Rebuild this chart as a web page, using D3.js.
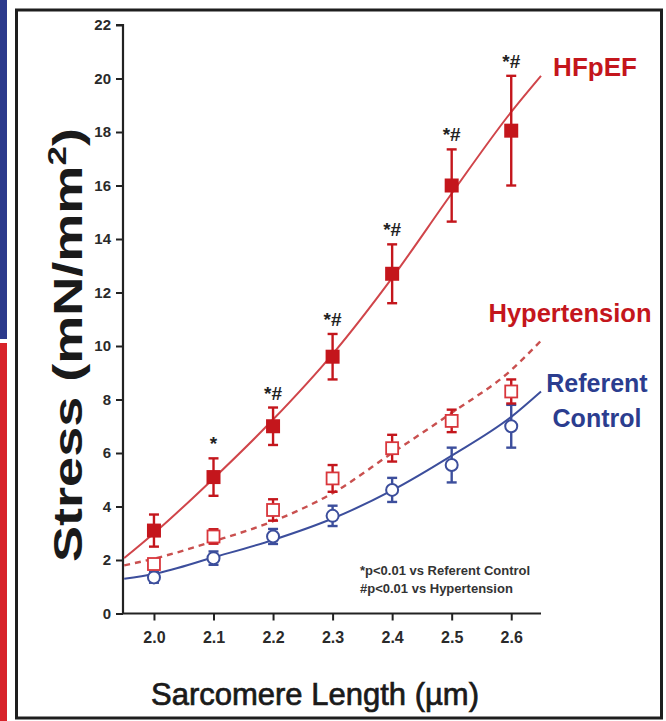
<!DOCTYPE html>
<html>
<head>
<meta charset="utf-8">
<script src="https://cdn.jsdelivr.net/npm/d3@7"></script>
<style>
  body { margin: 0; background: #fff; }
  svg { display: block; font-family: "Liberation Sans", Arial, Helvetica, sans-serif; }
</style>
</head>
<body>
<div id="chart"></div>
<script>
// sarcomere lengths where the means were measured
const sarcomereLengths = [2.0, 2.1, 2.2, 2.3, 2.4, 2.5, 2.6];

// mean stress and error per group (mN/mm2)
const hfpefMean = [3.1, 5.1, 7.0, 9.6, 12.7, 16.0, 18.05];
const hfpefErr = [0.6, 0.7, 0.7, 0.85, 1.1, 1.35, 2.05];
const hypertensionMean = [1.85, 2.88, 3.87, 5.05, 6.18, 7.2, 8.3];
const hypertensionErr = [0.12, 0.27, 0.4, 0.5, 0.5, 0.42, 0.45];
const controlMean = [1.35, 2.07, 2.88, 3.65, 4.62, 5.55, 7.0];
const controlErr = [0.2, 0.25, 0.28, 0.38, 0.45, 0.65, 0.8];

// significance marks above the HFpEF points
const significance = ["", "*", "*#", "*#", "*#", "*#", "*#"];

// fitted curves
const fitLengths = [1.95, 2.0, 2.1, 2.2, 2.3, 2.4, 2.5, 2.6, 2.65];
const hfpefFit = [2.07, 3.0, 5.05, 7.25, 9.7, 12.55, 15.7, 18.75, 20.1];
const hypertensionFit = [1.8, 2.05, 2.7, 3.45, 4.5, 6.0, 7.5, 9.1, 10.2];
const controlFit = [1.3, 1.48, 2.1, 2.75, 3.55, 4.6, 5.9, 7.35, 8.3];

// axis ticks
const xTicks = [2.0, 2.1, 2.2, 2.3, 2.4, 2.5, 2.6];
const yTicks = [0, 2, 4, 6, 8, 10, 12, 14, 16, 18, 20, 22];

const red = "#c4161c";
const dashRed = "#c9504f";
const blue = "#3c4e9c";
const textBlue = "#2b3d8f";

const width = 666;
const height = 721;

const svg = d3.select("#chart").append("svg")
  .attr("width", width)
  .attr("height", height);

// side bars and frame of the slide
svg.append("rect").attr("x", 0).attr("y", 0).attr("width", 7).attr("height", 339).attr("fill", "#2c3a8c");
svg.append("rect").attr("x", 0).attr("y", 343).attr("width", 7).attr("height", 378).attr("fill", "#d8232a");
svg.append("rect")
  .attr("x", 16.5).attr("y", 10)
  .attr("width", 645).attr("height", 708)
  .attr("fill", "none")
  .attr("stroke", "#1e1e1e")
  .attr("stroke-width", 3);

// scales
const xScale = d3.scaleLinear().domain([1.948, 2.65]).range([123, 541]);
const yScale = d3.scaleLinear().domain([0, 22]).range([613.5, 25]);

// y axis
const yAxis = d3.axisLeft(yScale)
  .tickValues(yTicks)
  .tickSize(7)
  .tickPadding(5)
  .tickFormat(d3.format("d"));
const gy = svg.append("g").attr("transform", "translate(" + xScale.range()[0] + ",0)").call(yAxis);
gy.select(".domain").attr("stroke", "#222").attr("stroke-width", 2.2).attr("d", "M-7," + yScale(22) + "H0V" + yScale(0));
gy.selectAll(".tick line").attr("stroke", "#222").attr("stroke-width", 2);
gy.selectAll(".tick text")
  .attr("fill", "#2a2a2a")
  .style("font-size", "15px")
  .style("font-weight", "bold");

// x axis
const xAxis = d3.axisBottom(xScale)
  .tickValues(xTicks)
  .tickSize(7)
  .tickPadding(11)
  .tickFormat(d3.format(".1f"));
const gx = svg.append("g").attr("transform", "translate(0," + yScale(0) + ")").call(xAxis);
gx.select(".domain").attr("stroke", "#222").attr("stroke-width", 2.2).attr("d", "M" + xScale.range()[0] + ",0H" + xScale.range()[1]);
gx.selectAll(".tick line").attr("stroke", "#222").attr("stroke-width", 2);
gx.selectAll(".tick text")
  .attr("fill", "#2a2a2a")
  .style("font-size", "16px")
  .style("font-weight", "bold");

// fitted lines
function fitLine(values) {
  return d3.line()
    .x((d, i) => xScale(fitLengths[i]))
    .y(d => yScale(d))
    .curve(d3.curveMonotoneX)(values);
}

svg.append("path").attr("d", fitLine(controlFit))
  .attr("fill", "none").attr("stroke", blue).attr("stroke-width", 2);
svg.append("path").attr("d", fitLine(hypertensionFit))
  .attr("fill", "none").attr("stroke", dashRed).attr("stroke-width", 2.4)
  .attr("stroke-dasharray", "6,5");
svg.append("path").attr("d", fitLine(hfpefFit))
  .attr("fill", "none").attr("stroke", "#d0454a").attr("stroke-width", 2);

// error bars
function errorBars(means, errs, color) {
  const g = svg.append("g").attr("stroke", color).attr("stroke-width", 2.4);
  means.forEach((m, i) => {
    const x = xScale(sarcomereLengths[i]);
    const top = yScale(m + errs[i]);
    const bottom = yScale(m - errs[i]);
    g.append("line").attr("x1", x).attr("x2", x).attr("y1", top).attr("y2", bottom);
    g.append("line").attr("x1", x - 5).attr("x2", x + 5).attr("y1", top).attr("y2", top);
    g.append("line").attr("x1", x - 5).attr("x2", x + 5).attr("y1", bottom).attr("y2", bottom);
  });
}

errorBars(controlMean, controlErr, blue);
errorBars(hypertensionMean, hypertensionErr, red);
errorBars(hfpefMean, hfpefErr, red);

// markers
svg.append("g").selectAll("circle")
  .data(controlMean)
  .join("circle")
  .attr("cx", (d, i) => xScale(sarcomereLengths[i]))
  .attr("cy", d => yScale(d))
  .attr("r", 6)
  .attr("fill", "#fff")
  .attr("stroke", blue)
  .attr("stroke-width", 2);

svg.append("g").selectAll("rect")
  .data(hypertensionMean)
  .join("rect")
  .attr("x", (d, i) => xScale(sarcomereLengths[i]) - 6)
  .attr("y", d => yScale(d) - 6)
  .attr("width", 12)
  .attr("height", 12)
  .attr("fill", "#fff")
  .attr("stroke", "#d9363c")
  .attr("stroke-width", 1.8);

svg.append("g").selectAll("rect")
  .data(hfpefMean)
  .join("rect")
  .attr("x", (d, i) => xScale(sarcomereLengths[i]) - 7)
  .attr("y", d => yScale(d) - 7)
  .attr("width", 14)
  .attr("height", 14)
  .attr("fill", red);

// significance marks
svg.append("g").selectAll("text")
  .data(significance)
  .join("text")
  .attr("x", (d, i) => xScale(sarcomereLengths[i]))
  .attr("y", (d, i) => yScale(hfpefMean[i] + hfpefErr[i]) - 8)
  .attr("text-anchor", "middle")
  .attr("fill", "#222")
  .style("font-size", "19px")
  .style("font-weight", "bold")
  .text(d => d);

// group labels
svg.append("text").attr("x", 595).attr("y", 76).attr("text-anchor", "middle")
  .attr("fill", red).style("font-size", "26px").style("font-weight", "bold").text("HFpEF");
svg.append("text").attr("x", 570).attr("y", 322).attr("text-anchor", "middle")
  .attr("fill", red).style("font-size", "25.5px").style("font-weight", "bold").text("Hypertension");
svg.append("text").attr("x", 597).attr("y", 392).attr("text-anchor", "middle")
  .attr("fill", textBlue).style("font-size", "25px").style("font-weight", "bold").text("Referent");
svg.append("text").attr("x", 597).attr("y", 427).attr("text-anchor", "middle")
  .attr("fill", textBlue).style("font-size", "25px").style("font-weight", "bold").text("Control");

// footnote
svg.append("text").attr("x", 360).attr("y", 575)
  .attr("fill", "#333").style("font-size", "13px").style("font-weight", "bold")
  .text("*p<0.01 vs Referent Control");
svg.append("text").attr("x", 360).attr("y", 593)
  .attr("fill", "#333").style("font-size", "13px").style("font-weight", "bold")
  .text("#p<0.01 vs Hypertension");

// axis titles
svg.append("text").attr("x", 315).attr("y", 705).attr("text-anchor", "middle")
  .attr("fill", "#1a1a1a").attr("stroke", "#1a1a1a").attr("stroke-width", 0.7)
  .style("font-size", "31px")
  .text("Sarcomere Length (\u00b5m)");

const yTitle = svg.append("text")
  .attr("text-anchor", "middle")
  .attr("fill", "#1a1a1a")
  .style("font-size", "40px")
  .style("font-weight", "bold");
yTitle.append("tspan").text("Stress (mN/mm");
yTitle.append("tspan").attr("dy", -16).style("font-size", "26px").text("2");
yTitle.append("tspan").attr("dy", 16).text(")");
// stretch the title along its length to match the tall figure
let titleWidth = yTitle.node().getBBox().width;
let stretch = 434 / titleWidth;
yTitle.attr("transform", "translate(82,345) rotate(-90) scale(" + stretch + ",1)");
</script>
</body>
</html>
